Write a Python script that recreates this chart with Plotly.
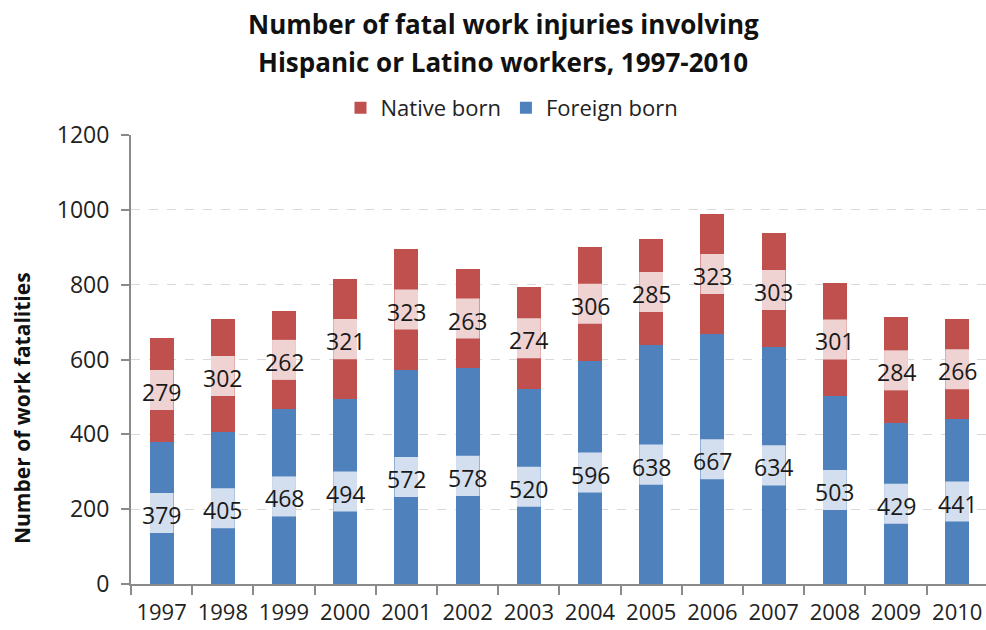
import plotly.graph_objects as go

years = ["1997", "1998", "1999", "2000", "2001", "2002", "2003",
         "2004", "2005", "2006", "2007", "2008", "2009", "2010"]
foreign_born = [379, 405, 468, 494, 572, 578, 520, 596, 638, 667, 634, 503, 429, 441]
native_born = [279, 302, 262, 321, 323, 263, 274, 306, 285, 323, 303, 301, 284, 266]
y_ticks = [0, 200, 400, 600, 800, 1000, 1200]

FONT = "Open Sans"
BLUE = "#4F81BD"
RED = "#C0504D"
AXIS = "#8A8A8A"
BAR_W = 0.39
BAND_H = 107  # label band height in data units

fig = go.Figure()
fig.add_trace(go.Bar(x=years, y=foreign_born, name="Foreign born",
                     marker=dict(color=BLUE, line=dict(width=0)), width=BAR_W))
fig.add_trace(go.Bar(x=years, y=native_born, name="Native born",
                     marker=dict(color=RED, line=dict(width=0)), width=BAR_W))

shapes = []
annotations = []
for i, yr in enumerate(years):
    mids = [(foreign_born[i] / 2, foreign_born[i]),
            (foreign_born[i] + native_born[i] / 2, native_born[i])]
    for mid, val in mids:
        shapes.append(dict(type="rect", xref="x", yref="y",
                           x0=i - BAR_W / 2, x1=i + BAR_W / 2,
                           y0=mid - BAND_H / 2, y1=mid + BAND_H / 2,
                           fillcolor="rgba(255,255,255,0.75)",
                           line=dict(width=0), layer="above"))
        annotations.append(dict(x=i, y=mid, xref="x", yref="y", text=str(val),
                                showarrow=False, yshift=-2,
                                font=dict(family=FONT, size=23, color="#1a1a1a")))

# Title lines
annotations.append(dict(text="<b>Number of fatal work injuries involving</b>",
                        xref="paper", yref="paper", x=(503 - 131) / 855,
                        y=1 + (135 - 24) / 449, yanchor="middle", showarrow=False,
                        font=dict(family=FONT, size=26, color="#111")))
annotations.append(dict(text="<b>Hispanic or Latino workers, 1997-2010</b>",
                        xref="paper", yref="paper", x=(503 - 131) / 855,
                        y=1 + (135 - 62) / 449, yanchor="middle", showarrow=False,
                        font=dict(family=FONT, size=26, color="#111")))
# Y-axis title
annotations.append(dict(text="<b>Number of work fatalities</b>",
                        xref="paper", yref="paper", x=-(131 - 22) / 855,
                        y=(584 - 408) / 449, xanchor="center", yanchor="middle",
                        textangle=-90, showarrow=False,
                        font=dict(family=FONT, size=21, color="#111")))

fig.update_layout(
    barmode="stack",
    width=986, height=630,
    margin=dict(l=131, r=0, t=135, b=46, autoexpand=False),
    paper_bgcolor="white", plot_bgcolor="white",
    font=dict(family=FONT, color="#222"),
    showlegend=True,
    legend=dict(orientation="h", traceorder="reversed",
                xref="container", yref="container",
                x=512 / 986, y=1 - 108 / 630, xanchor="center", yanchor="middle",
                font=dict(family=FONT, size=22, color="#222"),
                bgcolor="rgba(0,0,0,0)"),
    shapes=shapes,
    annotations=annotations,
    bargap=0.61,
)
fig.update_xaxes(type="category", range=[-0.5, 13.47], tickson="boundaries",
                 ticks="outside", ticklen=9, tickwidth=2, tickcolor=AXIS,
                 showline=True, linecolor=AXIS, linewidth=2, showgrid=False,
                 tickangle=0, automargin=False,
                 tickfont=dict(family=FONT, size=22, color="#222"),
                 ticklabelstandoff=8)
fig.update_yaxes(range=[0, 1200], tickvals=y_ticks, ticks="outside", ticklen=8,
                 tickwidth=2, tickcolor=AXIS, showline=True, linecolor=AXIS,
                 linewidth=2, showgrid=True, gridcolor="#D9D9D9", griddash="dash",
                 gridwidth=1, zeroline=False, automargin=False,
                 tickfont=dict(family=FONT, size=23, color="#222"),
                 ticklabelstandoff=7)

fig.write_html("out.html", config={"displayModeBar": False},
               post_script="document.body.style.margin='0';")
